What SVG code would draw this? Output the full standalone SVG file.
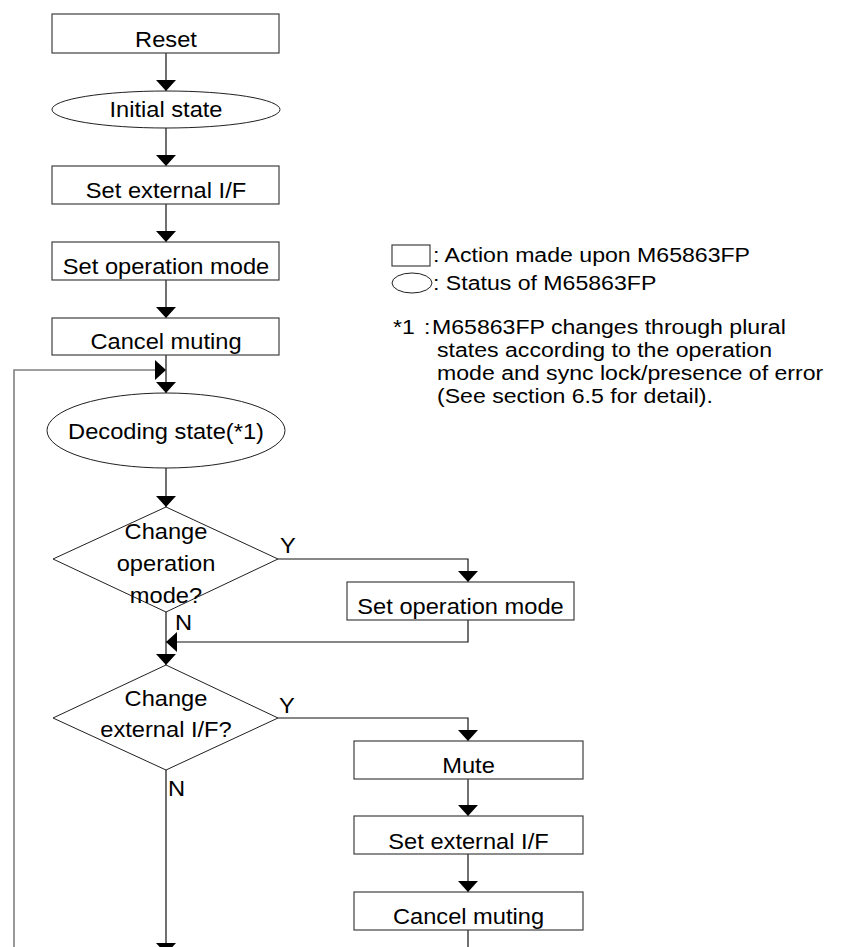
<svg xmlns="http://www.w3.org/2000/svg" width="851" height="947" viewBox="0 0 851 947">
<style>
.box{fill:#fff;stroke:#404040;stroke-width:1.2}
.shp{fill:#fff;stroke:#202020;stroke-width:1}
.ln{fill:none;stroke:#111;stroke-width:1.2}
.gl{fill:none;stroke:#808080;stroke-width:1.6}
text{font-family:"Liberation Sans",Arial,sans-serif;font-size:21.5px;fill:#000}
.c{text-anchor:middle}
.lg{font-size:21px}
</style>
<defs>
<marker id="ah" markerUnits="userSpaceOnUse" markerWidth="11" markerHeight="20" viewBox="0 0 11 20" refX="11" refY="10" orient="auto">
<path d="M0,0 L11,10 L0,20 z" fill="#000"/>
</marker>
</defs>
<rect width="851" height="947" fill="#fff"/>

<g id="connectors">
<path class="ln" d="M166,53 V91" marker-end="url(#ah)"/>
<path class="ln" d="M166,128 V166" marker-end="url(#ah)"/>
<path class="ln" d="M166,204 V242" marker-end="url(#ah)"/>
<path class="ln" d="M166,280 V318" marker-end="url(#ah)"/>
<path class="ln" d="M166,355 V393" marker-end="url(#ah)"/>
<path class="gl" d="M14,947 V370 H166" marker-end="url(#ah)"/>
<path class="ln" d="M166,468 V507" marker-end="url(#ah)"/>
<path class="ln" d="M278,559 H468 V582" marker-end="url(#ah)"/>
<path class="ln" d="M468,620 V642 H166" marker-end="url(#ah)"/>
<path class="ln" d="M166,612 V665" marker-end="url(#ah)"/>
<path class="ln" d="M278,718 H468 V741" marker-end="url(#ah)"/>
<path class="ln" d="M468,779 V816" marker-end="url(#ah)"/>
<path class="ln" d="M468,854 V892" marker-end="url(#ah)"/>
<path class="ln" d="M468,930 V947"/>
<path class="ln" d="M166,770 V954" marker-end="url(#ah)"/>
<text transform="translate(288,553) scale(1.1,1)" class="c">Y</text>
<text transform="translate(175,630) scale(1.1,1)">N</text>
<text transform="translate(287,713) scale(1.1,1)" class="c">Y</text>
<text transform="translate(168,796) scale(1.1,1)">N</text>
</g>

<g id="reset">
<rect class="box" x="52" y="14" width="227" height="39"/>
<text transform="translate(166,47) scale(1.1,1)" class="c">Reset</text>
</g>
<g id="initial-state">
<ellipse class="shp" cx="166" cy="109.5" rx="114" ry="18.5"/>
<text transform="translate(166,117) scale(1.1,1)" class="c">Initial state</text>
</g>
<g id="set-external-if">
<rect class="box" x="52" y="166" width="227" height="38"/>
<text transform="translate(166,198) scale(1.1,1)" class="c">Set external I/F</text>
</g>
<g id="set-operation-mode">
<rect class="box" x="52" y="242" width="227" height="38"/>
<text transform="translate(166,274) scale(1.1,1)" class="c">Set operation mode</text>
</g>
<g id="cancel-muting">
<rect class="box" x="52" y="318" width="227" height="37"/>
<text transform="translate(166,349) scale(1.1,1)" class="c">Cancel muting</text>
</g>
<g id="decoding-state">
<ellipse class="shp" cx="166" cy="430.5" rx="119" ry="37.5"/>
<text transform="translate(166,439) scale(1.1,1)" class="c">Decoding state(*1)</text>
</g>
<g id="change-operation-mode">
<polygon class="shp" points="166,507 278,559 166,612 53,559"/>
<text transform="translate(166,539) scale(1.1,1)" class="c">Change</text>
<text transform="translate(166,571) scale(1.1,1)" class="c">operation</text>
<text transform="translate(166,603) scale(1.1,1)" class="c">mode?</text>
</g>
<g id="set-operation-mode-2">
<rect class="box" x="347" y="582" width="227" height="38"/>
<text transform="translate(460.5,614) scale(1.1,1)" class="c">Set operation mode</text>
</g>
<g id="change-external-if">
<polygon class="shp" points="166,665 278,718 166,770 53,718"/>
<text transform="translate(166,706) scale(1.1,1)" class="c">Change</text>
<text transform="translate(166,737) scale(1.1,1)" class="c">external I/F?</text>
</g>
<g id="mute">
<rect class="box" x="354" y="741" width="229" height="38"/>
<text transform="translate(468.5,773) scale(1.1,1)" class="c">Mute</text>
</g>
<g id="set-external-if-2">
<rect class="box" x="354" y="816" width="229" height="38"/>
<text transform="translate(468.5,849) scale(1.1,1)" class="c">Set external I/F</text>
</g>
<g id="cancel-muting-2">
<rect class="box" x="354" y="892" width="229" height="38"/>
<text transform="translate(468.5,924) scale(1.1,1)" class="c">Cancel muting</text>
</g>

<g id="legend">
<rect class="box" x="392" y="245" width="38" height="21"/>
<text class="lg" transform="translate(433,262) scale(1.1,1)">: Action made upon M65863FP</text>
<ellipse class="shp" cx="412" cy="283" rx="20" ry="10"/>
<text class="lg" transform="translate(433,290) scale(1.1,1)">: Status of M65863FP</text>
<text class="lg" transform="translate(393,334) scale(1.1,1)">*1</text>
<text class="lg" transform="translate(424,334) scale(1.1,1)">:</text>
<text class="lg" transform="translate(432,334) scale(1.1,1)">M65863FP changes through plural</text>
<text class="lg" transform="translate(437,357) scale(1.1,1)">states according to the operation</text>
<text class="lg" transform="translate(437,380) scale(1.1,1)">mode and sync lock/presence of error</text>
<text class="lg" transform="translate(437,403) scale(1.1,1)">(See section 6.5 for detail).</text>
</g>
</svg>
